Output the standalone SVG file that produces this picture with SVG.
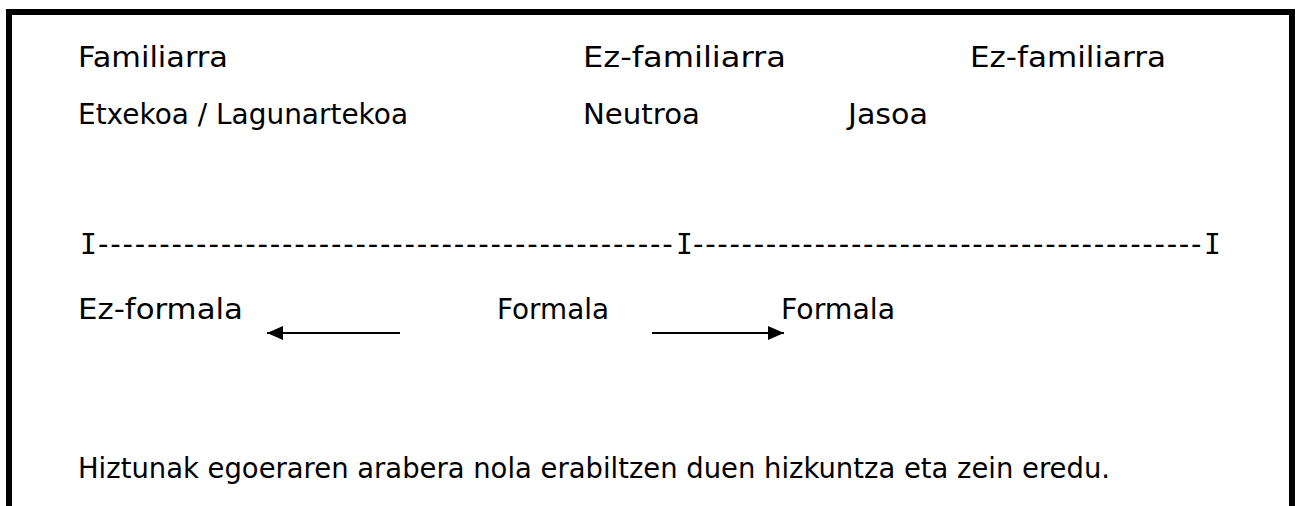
<svg xmlns="http://www.w3.org/2000/svg" width="1295" height="506" viewBox="0 0 1295 506">
<defs>
<style>
.t{font-family:"DejaVu Sans","Liberation Sans",sans-serif;font-size:29px;fill:#000}
.m{font-family:"DejaVu Sans Mono","Liberation Mono",monospace}
.c{stroke:#000;stroke-width:2;fill:none}
</style>
<marker id="ah" viewBox="0 0 16 14" refX="16" refY="7" markerWidth="16" markerHeight="14" markerUnits="userSpaceOnUse" orient="auto">
<path d="M0,0 L16,7 L0,14 Z" fill="#000"/>
</marker>
</defs>
<rect width="1295" height="506" fill="#fff"/>
<path d="M9,506 V12 H1292 V506" fill="none" stroke="#000" stroke-width="6"/>
<g id="n-familiarra"><text class="t" x="78" y="67" textLength="150" lengthAdjust="spacingAndGlyphs">Familiarra</text></g>
<g id="n-ezfam1"><text class="t" x="583" y="67" textLength="203" lengthAdjust="spacingAndGlyphs">Ez-familiarra</text></g>
<g id="n-ezfam2"><text class="t" x="970" y="67" textLength="196" lengthAdjust="spacingAndGlyphs">Ez-familiarra</text></g>
<g id="n-etxekoa"><text class="t" x="78" y="124" textLength="330" lengthAdjust="spacingAndGlyphs">Etxekoa / Lagunartekoa</text></g>
<g id="n-neutroa"><text class="t" x="583" y="124" textLength="117" lengthAdjust="spacingAndGlyphs">Neutroa</text></g>
<g id="n-jasoa"><text class="t" x="848" y="124" textLength="80" lengthAdjust="spacingAndGlyphs">Jasoa</text></g>
<g id="n-scale"><text class="t" y="254"><tspan class="m" x="80" font-size="28">I</tspan><tspan x="98" letter-spacing="1.8">-----------------------------------------------</tspan><tspan class="m" x="676" font-size="28">I</tspan><tspan x="693" letter-spacing="1.68">------------------------------------------</tspan><tspan class="m" x="1204" font-size="28">I</tspan></text></g>
<g id="n-ezformala"><text class="t" x="78" y="319" textLength="165" lengthAdjust="spacingAndGlyphs">Ez-formala</text></g>
<g id="n-formala1"><text class="t" x="497" y="319" textLength="112" lengthAdjust="spacingAndGlyphs">Formala</text></g>
<g id="n-formala2"><text class="t" x="781" y="319" textLength="114" lengthAdjust="spacingAndGlyphs">Formala</text></g>
<g id="n-caption"><text class="t" x="78" y="478" textLength="1032" lengthAdjust="spacingAndGlyphs">Hiztunak egoeraren arabera nola erabiltzen duen hizkuntza eta zein eredu.</text></g>
<g id="connectors">
<line class="c" x1="400" y1="333" x2="267" y2="333" marker-end="url(#ah)"/>
<line class="c" x1="652" y1="333" x2="784" y2="333" marker-end="url(#ah)"/>
</g>
</svg>
